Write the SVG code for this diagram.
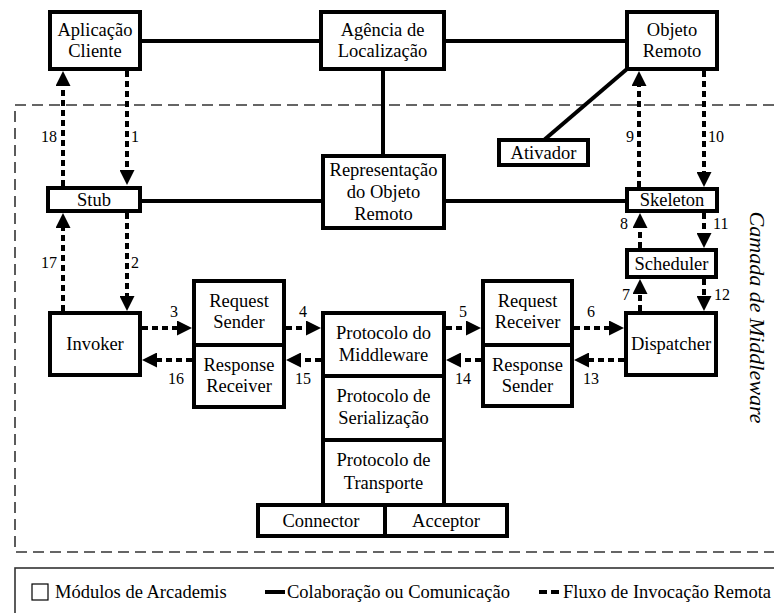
<svg xmlns="http://www.w3.org/2000/svg" width="774" height="613" viewBox="0 0 774 613">
  <style>
    .box { fill: #fff; stroke: #000; stroke-width: 4; }
    .t { font-size: 18.5px; text-anchor: middle; fill: #000; }
    .n { font-size: 16px; fill: #000; }
    .solid { stroke: #000; stroke-width: 4; fill: none; }
    .flow { stroke: #000; stroke-width: 4; stroke-dasharray: 6 4; fill: none; marker-end: url(#ah); }
    .layer { stroke: #333; stroke-width: 1.6; stroke-dasharray: 11 6; fill: none; }
    .legend { font-size: 18.5px; fill: #000; }
  </style>
  <defs>
    <marker id="ah" viewBox="0 0 15 15" refX="0" refY="7.5" markerWidth="15" markerHeight="15" markerUnits="userSpaceOnUse" orient="auto">
      <path d="M0,0 L15,7.5 L0,15 Z" fill="#000"/>
    </marker>
  </defs>

  <rect width="774" height="613" fill="#fff"/>

  <g font-family="Liberation Serif, Times New Roman, Times, serif">
  <!-- middleware layer boundary (open on the right) -->
  <path class="layer" d="M774,105 H15 V552 H774"/>
  <text class="t" font-style="italic" font-size="22" style="font-size:22px" transform="translate(750,317.5) rotate(90)" x="0" y="0">Camada de Middleware</text>

  <g id="connectors">
    <!-- collaboration links -->
    <path class="solid" d="M140,41 H321"/>
    <path class="solid" d="M444,41 H627"/>
    <path class="solid" d="M383,69 V156"/>
    <path class="solid" d="M140,201 H323"/>
    <path class="solid" d="M444,201 H627"/>
    <path class="solid" d="M627,69 L544,140"/>
    <!-- remote invocation flow -->
    <path class="flow" d="M127,71 V170"/>
    <path class="flow" d="M63,186 V86"/>
    <path class="flow" d="M127,213 V296"/>
    <path class="flow" d="M63,311 V228"/>
    <path class="flow" d="M142,328 H177"/>
    <path class="flow" d="M192,360 H157"/>
    <path class="flow" d="M286,328 H306"/>
    <path class="flow" d="M321,360 H301"/>
    <path class="flow" d="M446,328 H466"/>
    <path class="flow" d="M481,360 H461"/>
    <path class="flow" d="M574,328 H609"/>
    <path class="flow" d="M624,360 H589"/>
    <path class="flow" d="M640,311 V294"/>
    <path class="flow" d="M704,279 V296"/>
    <path class="flow" d="M640,248 V228"/>
    <path class="flow" d="M704,213 V233"/>
    <path class="flow" d="M639,187 V86"/>
    <path class="flow" d="M704,71 V172"/>
    <!-- step numbers -->
    <text class="n" x="57" y="142" text-anchor="end">18</text>
    <text class="n" x="131" y="142">1</text>
    <text class="n" x="57" y="268" text-anchor="end">17</text>
    <text class="n" x="131" y="268">2</text>
    <text class="n" x="174" y="317" text-anchor="middle">3</text>
    <text class="n" x="176" y="384" text-anchor="middle">16</text>
    <text class="n" x="303" y="317" text-anchor="middle">4</text>
    <text class="n" x="303" y="384" text-anchor="middle">15</text>
    <text class="n" x="463" y="317" text-anchor="middle">5</text>
    <text class="n" x="463" y="384" text-anchor="middle">14</text>
    <text class="n" x="591" y="317" text-anchor="middle">6</text>
    <text class="n" x="591" y="384" text-anchor="middle">13</text>
    <text class="n" x="634" y="142" text-anchor="end">9</text>
    <text class="n" x="708" y="142">10</text>
    <text class="n" x="628" y="229" text-anchor="end">8</text>
    <text class="n" x="713" y="229">11</text>
    <text class="n" x="630" y="300" text-anchor="end">7</text>
    <text class="n" x="714" y="300">12</text>
  </g>

  <g id="aplicacao-cliente">
    <rect class="box" x="50" y="12" width="90" height="57"/>
    <text class="t" x="95" y="36">Aplicação</text>
    <text class="t" x="95" y="57">Cliente</text>
  </g>
  <g id="agencia-localizacao">
    <rect class="box" x="321" y="12" width="123" height="57"/>
    <text class="t" x="382.5" y="36">Agência de</text>
    <text class="t" x="382.5" y="57">Localização</text>
  </g>
  <g id="objeto-remoto">
    <rect class="box" x="627" y="12" width="90" height="57"/>
    <text class="t" x="672" y="36">Objeto</text>
    <text class="t" x="672" y="57">Remoto</text>
  </g>
  <g id="ativador">
    <rect class="box" x="499" y="140" width="89" height="25"/>
    <text class="t" x="543.5" y="159">Ativador</text>
  </g>
  <g id="stub">
    <rect class="box" x="48" y="188" width="92" height="23"/>
    <text class="t" x="94" y="206">Stub</text>
  </g>
  <g id="representacao">
    <rect class="box" x="323" y="156" width="121" height="72"/>
    <text class="t" x="383.5" y="176">Representação</text>
    <text class="t" x="383.5" y="198">do Objeto</text>
    <text class="t" x="383.5" y="220">Remoto</text>
  </g>
  <g id="skeleton">
    <rect class="box" x="627" y="189" width="90" height="22"/>
    <text class="t" x="672" y="206">Skeleton</text>
  </g>
  <g id="scheduler">
    <rect class="box" x="627" y="250" width="89" height="27"/>
    <text class="t" x="671.5" y="270">Scheduler</text>
  </g>
  <g id="dispatcher">
    <rect class="box" x="626" y="313" width="90" height="62"/>
    <text class="t" x="671" y="350">Dispatcher</text>
  </g>
  <g id="invoker">
    <rect class="box" x="50" y="313" width="90" height="62"/>
    <text class="t" x="95" y="350">Invoker</text>
  </g>
  <g id="request-sender">
    <rect class="box" x="194" y="281" width="90" height="64"/>
    <text class="t" x="239" y="307">Request</text>
    <text class="t" x="239" y="328">Sender</text>
  </g>
  <g id="response-receiver">
    <rect class="box" x="194" y="345" width="90" height="62"/>
    <text class="t" x="239" y="371">Response</text>
    <text class="t" x="239" y="392">Receiver</text>
  </g>
  <g id="protocolo-middleware">
    <rect class="box" x="323" y="313" width="121" height="63"/>
    <text class="t" x="383.5" y="339">Protocolo do</text>
    <text class="t" x="383.5" y="361">Middleware</text>
  </g>
  <g id="protocolo-serializacao">
    <rect class="box" x="323" y="376" width="121" height="64"/>
    <text class="t" x="383.5" y="402">Protocolo de</text>
    <text class="t" x="383.5" y="424">Serialização</text>
  </g>
  <g id="protocolo-transporte">
    <rect class="box" x="323" y="440" width="121" height="65"/>
    <text class="t" x="383.5" y="466">Protocolo de</text>
    <text class="t" x="383.5" y="489">Transporte</text>
  </g>
  <g id="request-receiver">
    <rect class="box" x="483" y="281" width="89" height="64"/>
    <text class="t" x="527.5" y="307">Request</text>
    <text class="t" x="527.5" y="328">Receiver</text>
  </g>
  <g id="response-sender">
    <rect class="box" x="483" y="345" width="89" height="61"/>
    <text class="t" x="527.5" y="371">Response</text>
    <text class="t" x="527.5" y="392">Sender</text>
  </g>
  <g id="connector">
    <rect class="box" x="258" y="505" width="127" height="31"/>
    <text class="t" x="321" y="527">Connector</text>
  </g>
  <g id="acceptor">
    <rect class="box" x="385" y="505" width="122" height="31"/>
    <text class="t" x="446" y="527">Acceptor</text>
  </g>

  <!-- legend -->
  <g id="legend">
    <rect x="15" y="568" width="780" height="60" fill="none" stroke="#333" stroke-width="1.6"/>
    <rect x="32" y="584" width="16" height="16" fill="#fff" stroke="#000" stroke-width="1.2"/>
    <text class="legend" x="55" y="598">Módulos de Arcademis</text>
    <path d="M265,592 H285" stroke="#000" stroke-width="4"/>
    <text class="legend" x="287" y="598">Colaboração ou Comunicação</text>
    <path d="M539,592 H561" stroke="#000" stroke-width="4" stroke-dasharray="8 4"/>
    <text class="legend" x="563" y="598">Fluxo de Invocação Remota</text>
  </g>
  </g>
</svg>
